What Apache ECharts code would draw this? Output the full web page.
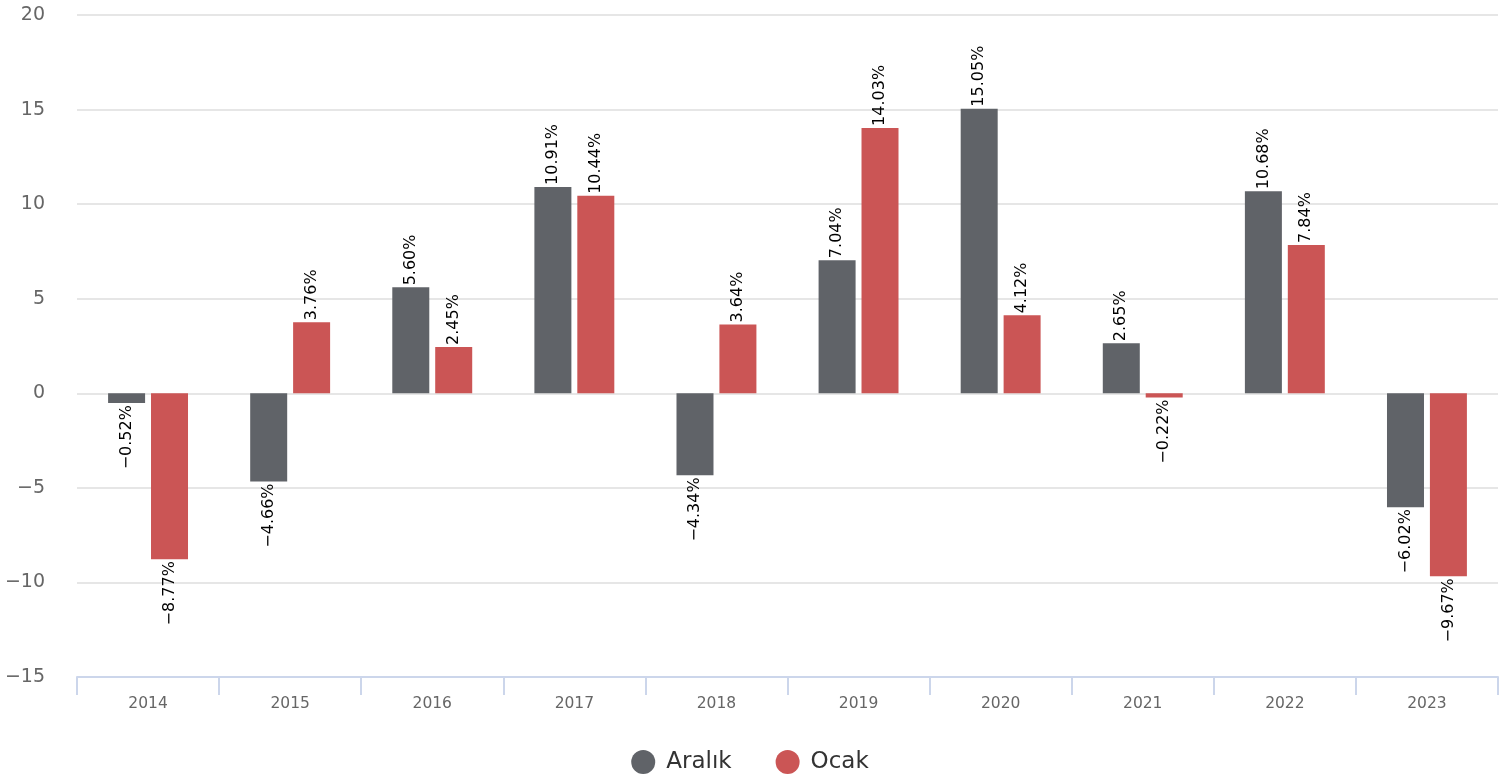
<!DOCTYPE html>
<html>
<head>
<meta charset="utf-8">
<script src="https://cdn.jsdelivr.net/npm/echarts@6/dist/echarts.min.js"></script>
<style>
  html, body { margin: 0; padding: 0; background: #fff; }
  #chart { width: 1500px; height: 782px; }
</style>
</head>
<body>
<div id="chart"></div>
<script>
const years = ['2014', '2015', '2016', '2017', '2018', '2019', '2020', '2021', '2022', '2023'];
const aralik = [-0.52, -4.66, 5.60, 10.91, -4.34, 7.04, 15.05, 2.65, 10.68, -6.02];
const ocak = [-8.77, 3.76, 2.45, 10.44, 3.64, 14.03, 4.12, -0.22, 7.84, -9.67];

const font = 'DejaVu Sans';

// label goes above positive bars and below negative ones, rotated
function withLabels(values) {
  return values.map(v => ({
    value: v,
    label: v >= 0
      ? { position: 'top', align: 'left', verticalAlign: 'middle' }
      : { position: 'bottom', align: 'right', verticalAlign: 'middle' }
  }));
}

const labelBase = {
  show: true,
  rotate: 90,
  distance: 2,
  fontFamily: font,
  fontSize: 16,
  color: '#000',
  formatter: p => p.value.toFixed(2).replace('-', '\u2212') + '%'
};

const chart = echarts.init(document.getElementById('chart'), null, { renderer: 'canvas' });

const option = {
  animation: false,
  textStyle: { fontFamily: font },
  grid: { left: 77, right: 2, top: 15, bottom: 105 },
  legend: {
    bottom: 3,
    left: 'center',
    icon: 'circle',
    itemWidth: 24,
    itemHeight: 24,
    itemGap: 44,
    textStyle: { fontFamily: font, fontSize: 23, color: '#333', padding: [0, 0, 0, 6] },
    data: ['Aralık', 'Ocak']
  },
  xAxis: {
    type: 'category',
    data: years,
    position: 'bottom',
    axisLine: { onZero: false, lineStyle: { color: '#ccd6eb', width: 2 } },
    axisTick: { show: true, length: 18, lineStyle: { color: '#ccd6eb', width: 2 } },
    axisLabel: { fontFamily: font, fontSize: 15.5, color: '#666', margin: 19 }
  },
  yAxis: {
    type: 'value',
    min: -15,
    max: 20,
    interval: 5,
    axisLine: { show: false },
    axisTick: { show: false },
    splitLine: { lineStyle: { color: '#e6e6e6', width: 2 } },
    axisLabel: {
      fontFamily: font, fontSize: 19, color: '#666', margin: 32,
      formatter: v => String(v).replace('-', '\u2212')
    }
  },
  series: [
    {
      name: 'Aralık',
      type: 'bar',
      data: withLabels(aralik),
      barWidth: 37,
      barGap: '16%',
      itemStyle: { color: '#606368' },
      label: labelBase
    },
    {
      name: 'Ocak',
      type: 'bar',
      data: withLabels(ocak),
      barWidth: 37,
      itemStyle: { color: '#cb5555' },
      label: labelBase
    }
  ]
};

chart.setOption(option);
</script>
</body>
</html>
